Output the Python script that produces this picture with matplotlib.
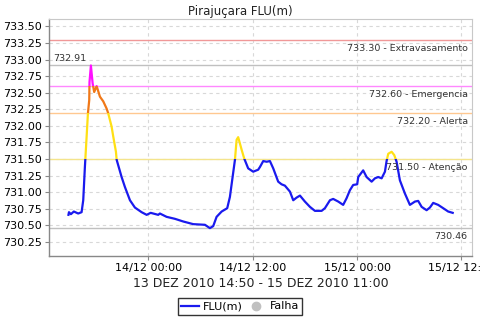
import numpy as np
import matplotlib
matplotlib.use("Agg")
import matplotlib.pyplot as plt
from matplotlib.patches import Rectangle
from matplotlib.lines import Line2D

# hours since 13/12/2010 00:00
hours = [14.83, 14.89, 15.11, 15.45, 15.95, 16.34, 16.53, 16.72, 16.92, 17.07, 17.22,
         17.25, 17.41, 17.61, 17.79, 18.07, 18.45, 18.83, 19.22, 19.40, 19.79, 19.98,
         20.29, 20.37, 20.94, 21.32, 21.90, 22.47, 23.24, 23.82, 24.28, 25.15, 25.34,
         26.11, 27.07, 28.02, 29.17, 30.52, 31.09, 31.47, 31.86, 32.44, 33.08, 33.39,
         33.70, 33.97, 34.16, 34.34, 34.74, 35.03, 35.49, 36.07, 36.64, 36.84, 37.22,
         37.61, 37.99, 38.37, 38.94, 39.33, 39.71, 40.29, 40.67, 41.06, 41.44, 42.01,
         42.59, 43.16, 43.93, 44.31, 44.89, 45.26, 45.84, 46.41, 46.80, 47.18, 47.56,
         48.02, 48.14, 48.71, 49.10, 49.68, 50.06, 50.44, 50.83, 51.21, 51.40, 51.59,
         51.98, 52.28, 52.55, 52.93, 53.51, 54.08, 54.66, 55.03, 55.43, 56.00, 56.38,
         56.76, 57.33, 57.91, 58.48, 59.00]
levels = [730.66, 730.70, 730.67, 730.71, 730.68, 730.70, 730.88, 731.38, 731.84, 732.19, 732.39,
          732.66, 732.91, 732.64, 732.51, 732.60, 732.44, 732.37, 732.26, 732.19, 731.99, 731.84,
          731.61, 731.49, 731.23, 731.08, 730.88, 730.77, 730.70, 730.66, 730.69, 730.66, 730.68,
          730.63, 730.60, 730.56, 730.52, 730.51, 730.46, 730.49, 730.63, 730.71, 730.76, 730.93,
          731.23, 731.49, 731.79, 731.83, 731.64, 731.51, 731.36, 731.31, 731.34, 731.38, 731.47,
          731.46, 731.47, 731.36, 731.16, 731.12, 731.10, 731.01, 730.88, 730.92, 730.95, 730.86,
          730.78, 730.72, 730.72, 730.76, 730.88, 730.90, 730.86, 730.81, 730.91, 731.03, 731.11,
          731.12, 731.23, 731.33, 731.23, 731.16, 731.21, 731.23, 731.21, 731.31, 731.47, 731.58,
          731.61, 731.56, 731.46, 731.18, 730.98, 730.81, 730.86, 730.87, 730.78, 730.73, 730.77,
          730.84, 730.81, 730.76, 730.71, 730.69]

thresholds = [733.30, 732.60, 732.20, 731.50]
threshold_names = ["Extravasamento", "Emergencia", "Alerta", "Atenção"]
threshold_colors = ["#f09898", "#ff88ff", "#ffc890", "#f4e48c"]
max_level = 732.91
min_level = 730.46

x_ticks = [24, 36, 48, 60]
x_tick_labels = ["14/12 00:00", "14/12 12:00", "15/12 00:00", "15/12 12:00"]
y_ticks = [730.25, 730.50, 730.75, 731.00, 731.25, 731.50, 731.75, 732.00,
           732.25, 732.50, 732.75, 733.00, 733.25, 733.50]

fig = plt.figure(figsize=(4.8, 3.2), dpi=100)
ax = fig.add_axes([0.102, 0.2, 0.881, 0.7406])
xlim = (12.59, 61.2)
ylim = (730.04, 733.61)
ax.set_xlim(*xlim)
ax.set_ylim(*ylim)

ax.set_xticks(x_ticks)
ax.set_xticklabels(x_tick_labels, fontsize=8)
ax.set_yticks(y_ticks)
ax.set_yticklabels([f"{v:.2f}" for v in y_ticks], fontsize=8)
ax.tick_params(axis='both', length=3, color='#888888', pad=2)
ax.grid(True, color='#d8d8d8', linestyle=(0, (3, 3)), linewidth=0.8)
ax.set_axisbelow(True)
for s in ['top', 'right']:
    ax.spines[s].set_color('#c8c8c8')
for s in ['left', 'bottom']:
    ax.spines[s].set_color('#888888')
    ax.spines[s].set_linewidth(1.0)

# threshold lines
for val, name, col in zip(thresholds, threshold_names, threshold_colors):
    ax.axhline(val, color=col, lw=1.0, zorder=2)
    ax.annotate(f"{val:.2f} - {name}", xy=(1, val), xycoords=('axes fraction', 'data'),
                xytext=(-3, -3), textcoords='offset points', ha='right', va='top',
                fontsize=6.8, color='#333333', zorder=5)
ax.axhline(max_level, color='#c0c0c0', lw=1.0, zorder=2)
ax.annotate(f"{max_level:.2f}", xy=(0, max_level), xycoords=('axes fraction', 'data'),
            xytext=(3, 2), textcoords='offset points', ha='left', va='bottom',
            fontsize=6.8, color='#333333')
ax.axhline(min_level, color='#c0c0c0', lw=1.0, zorder=2)
ax.annotate(f"{min_level:.2f}", xy=(1, min_level), xycoords=('axes fraction', 'data'),
            xytext=(-3, -3), textcoords='offset points', ha='right', va='top',
            fontsize=6.8, color='#333333')

# colored line by band
bands = [(ylim[0], 731.50, "#1a1aee"), (731.50, 732.20, "#ffe014"),
         (732.20, 732.60, "#f07818"), (732.60, ylim[1], "#ff10ff")]
for lo, hi, col in bands:
    ln, = ax.plot(hours, levels, color=col, lw=1.6, zorder=4, solid_joinstyle='round')
    rect = Rectangle((xlim[0], lo), xlim[1] - xlim[0], hi - lo, transform=ax.transData)
    ln.set_clip_path(rect)

fig.suptitle("Pirajuçara FLU(m)", x=0.5, y=0.985, fontsize=8.5, color='#222222')
ax.set_xlabel("13 DEZ 2010 14:50 - 15 DEZ 2010 11:00", fontsize=9, labelpad=3, color='#222222')

handles = [Line2D([0], [0], color="#1a1aee", lw=1.6),
           Line2D([0], [0], marker='o', color='#c0c0c0', lw=0, markersize=6)]
leg = fig.legend(handles, ["FLU(m)", "Falha"], loc='center', bbox_to_anchor=(0.5, 0.0425),
                 ncol=2, fontsize=8, frameon=True, fancybox=False, handlelength=1.6,
                 handletextpad=0.4, columnspacing=0.4, borderpad=0.3, borderaxespad=0)
leg.get_frame().set_edgecolor('black')
leg.get_frame().set_linewidth(1.0)

fig.savefig("out.png", dpi=100)
